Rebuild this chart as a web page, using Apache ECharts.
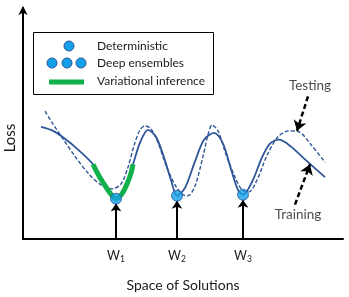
<!DOCTYPE html>
<html><head><meta charset="utf-8">
<script src="https://cdn.jsdelivr.net/npm/echarts@6/dist/echarts.min.js"></script>
<style>html,body{margin:0;padding:0;background:#fff}#c{width:349px;height:297px}</style>
</head><body><div id="c"></div>
<script>
// Coordinates: x = position in solution space, y = loss (arbitrary units)
const training = [[18,114],[30,110],[42,102],[55,91],[70,76],[81,58],[93,41],[102,53],[110,76],[117,98],[125,111],[133,104],[141,83],[148,60],[154,44],[162,52],[172,79],[181,101],[191,108],[200,97],[208,71],[215,50],[220,45],[229,58],[239,83],[247,97],[256,101],[268,94],[282,81],[302,63]];
const testing = [[22,130],[30,117],[40,102],[52,84],[66,66],[78,55],[89,51],[98,56],[105,73],[111,95],[117,111],[122,115],[128,112],[135,98],[143,75],[152,55],[160,45],[165,44],[172,54],[180,84],[185,106],[189,116],[195,110],[203,86],[212,63],[219,50],[226,48],[234,60],[244,85],[255,104],[266,110],[276,109],[288,96],[302,78]];
const variational = [[70,76],[76,64],[81,56],[87,47],[93,41],[99,46],[104,56],[108,67],[110,76]];
const solutions = [[93,41],[154,44],[220,45]];
const solutionLabels = ['W{s|1}','W{s|2}','W{s|3}'];
const annotations = [
  {name:'Testing', from:[285,145], to:[274,110], label:[287,156]},
  {name:'Training', from:[272,35], to:[287,76], label:[275,25]}
];
const legendItems = ['Deterministic','Deep ensembles','Variational inference'];

const FONT = 'Lato';
const curveColor = '#2E5597';
const dotColor = '#14A0E8';
const textColor = '#1a1a1a';
const chart = echarts.init(document.getElementById('c'), null, {renderer:'canvas'});

const option = {
  animation:false,
  textStyle:{fontFamily:FONT},
  grid:{left:23,right:6,top:8,bottom:54},
  xAxis:{type:'value',min:0,max:320,
    name:'Space of Solutions',nameLocation:'middle',nameGap:39,
    nameTextStyle:{fontFamily:FONT,fontSize:14,color:textColor},
    axisLine:{onZero:false,lineStyle:{color:'#000',width:2}},
    axisTick:{show:false},splitLine:{show:false},
    axisLabel:{customValues:solutions.map(p=>p[0]),margin:9,color:textColor,fontFamily:FONT,fontSize:12.5,
      formatter:(v)=>{const i=solutions.findIndex(p=>p[0]===v);return i>=0?solutionLabels[i]:'';},
      rich:{s:{fontSize:8.5,verticalAlign:'bottom',padding:[7,0,0,0],color:textColor,fontFamily:FONT}}}
  },
  yAxis:{type:'value',min:0,max:235,
    axisLine:{onZero:false,lineStyle:{color:'#000',width:2},symbol:['none','arrow'],symbolSize:[7,9],symbolOffset:[0,2]},
    axisTick:{show:false},splitLine:{show:false},axisLabel:{show:false}
  },
  series:[
    {type:'line',data:testing,smooth:0.3,symbol:'none',z:3,
      lineStyle:{color:curveColor,width:1.4,type:[4,2]}},
    {type:'line',data:training,smooth:0.3,symbol:'none',z:4,
      lineStyle:{color:curveColor,width:1.8}},
    {type:'line',data:variational,smooth:0.4,symbol:'none',z:5,
      lineStyle:{color:'#11B04A',width:5,cap:'butt'}},
    {type:'lines',coordinateSystem:'cartesian2d',z:6,
      symbol:['none','arrow'],symbolSize:8,
      lineStyle:{color:'#000',width:2,opacity:1},
      data:solutions.map(p=>({coords:[[p[0],0],[p[0],p[1]-5]]}))},
    {type:'lines',coordinateSystem:'cartesian2d',z:6,
      symbol:['none','arrow'],symbolSize:10,
      lineStyle:{color:'#000',width:2.5,type:[5,3],opacity:1},
      data:annotations.map(a=>({coords:[a.from,a.to]}))},
    {type:'scatter',data:solutions,symbolSize:11,z:7,
      itemStyle:{color:dotColor,borderColor:'#2E5597',borderWidth:1}},
    {type:'scatter',data:annotations.map(a=>({value:a.label,name:a.name})),symbolSize:0,z:7,
      label:{show:true,position:'inside',formatter:'{b}',color:textColor,fontFamily:FONT,fontSize:13.5}}
  ],
  graphic:[
    {type:'text',x:10,y:138,rotation:Math.PI/2,style:{text:'Loss',font:'15px '+FONT,fill:textColor,align:'center',verticalAlign:'middle'}},
    {type:'rect',shape:{x:33.5,y:32.5,width:180,height:62},style:{fill:'#fff',stroke:'#000',lineWidth:1},z:10},
    {type:'circle',shape:{cx:69,cy:46,r:5},style:{fill:dotColor,stroke:'#2E5597',lineWidth:1},z:11},
    {type:'circle',shape:{cx:52,cy:63,r:5},style:{fill:dotColor,stroke:'#2E5597',lineWidth:1},z:11},
    {type:'circle',shape:{cx:67,cy:63,r:5},style:{fill:dotColor,stroke:'#2E5597',lineWidth:1},z:11},
    {type:'circle',shape:{cx:81,cy:63,r:5},style:{fill:dotColor,stroke:'#2E5597',lineWidth:1},z:11},
    {type:'rect',shape:{x:49,y:79.5,width:35,height:5},style:{fill:'#11B04A'},z:11},
    ...legendItems.map((t,i)=>({type:'text',x:97,y:46+i*17.5,z:11,
      style:{text:t,font:'12px '+FONT,fill:textColor,verticalAlign:'middle'}}))
  ]
};
chart.setOption(option);
</script></body></html>
